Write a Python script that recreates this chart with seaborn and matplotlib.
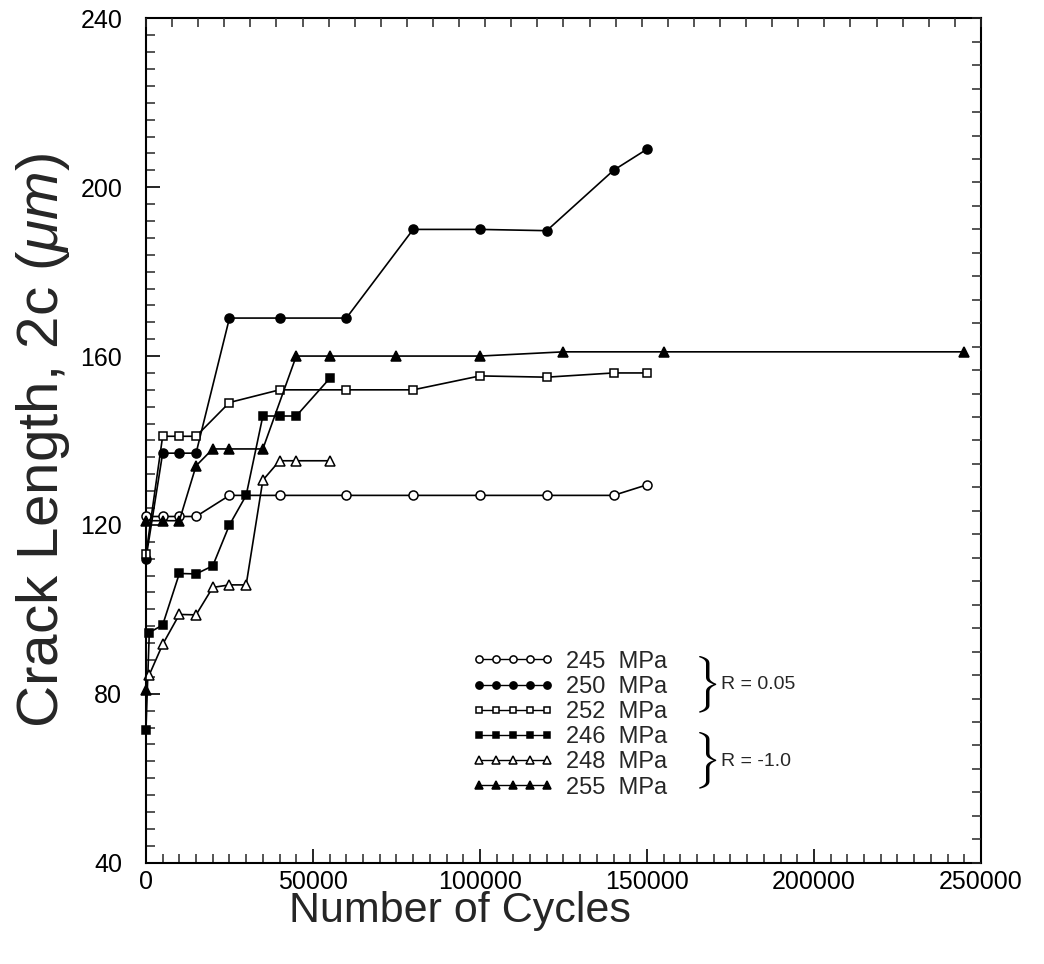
import numpy as np
import matplotlib
matplotlib.use("Agg")
import matplotlib.pyplot as plt
from matplotlib.ticker import MultipleLocator
import seaborn as sns

# ---- data ----
x245 = [0, 5000, 10000, 15000, 25000, 40000, 60000, 80000, 100000, 120000, 140000, 150000]
y245 = [122, 122, 122, 122, 127, 127, 127, 127, 127, 127, 127, 129.5]

x250 = [0, 5000, 10000, 15000, 25000, 40000, 60000, 80000, 100000, 120000, 140000, 150000]
y250 = [112, 137, 137, 137, 169, 169, 169, 190, 190, 189.7, 204, 209]

x252 = [0, 5000, 10000, 15000, 25000, 40000, 60000, 80000, 100000, 120000, 140000, 150000]
y252 = [113, 141, 141, 141, 149, 152, 152, 152, 155.3, 155, 156, 156]

x246 = [0, 1000, 5000, 10000, 15000, 20000, 25000, 30000, 35000, 40000, 45000, 55000]
y246 = [71.5, 94.5, 96.3, 108.5, 108.4, 110.3, 120, 127, 145.8, 145.8, 145.8, 154.7]

x248 = [1000, 5000, 10000, 15000, 20000, 25000, 30000, 35000, 40000, 45000, 55000]
y248 = [84.5, 91.7, 98.8, 98.7, 105.2, 105.8, 105.8, 130.6, 135.2, 135.2, 135.2]

x255 = [0, 0, 5000, 10000, 15000, 20000, 25000, 35000, 45000, 55000, 75000, 100000, 125000, 155000, 245000]
y255 = [81, 121, 121, 121, 134, 138, 138, 138, 160, 160, 160, 160, 161, 161, 161]

labels = ["245  MPa", "250  MPa", "252  MPa", "246  MPa", "248  MPa", "255  MPa"]
group_labels = ["R = 0.05", "R = -1.0"]
xlabel = "Number of Cycles"
ylabel = r"Crack Length, 2c ($\mu m$)"

series = [
    (x245, y245, "o", "white", 6.5),
    (x250, y250, "o", "black", 6.5),
    (x252, y252, "s", "white", 6.0),
    (x246, y246, "s", "black", 6.0),
    (x248, y248, "^", "white", 7.0),
    (x255, y255, "^", "black", 7.0),
]

sns.set_theme(style="white")
plt.rcParams["font.family"] = ["Liberation Sans", "DejaVu Sans"]
plt.rcParams["mathtext.fontset"] = "custom"
plt.rcParams["mathtext.it"] = "Liberation Sans:italic"
plt.rcParams["mathtext.rm"] = "Liberation Sans"

fig = plt.figure(figsize=(10.44, 9.64), dpi=100)
ax = fig.add_axes([0.1398, 0.1051, 0.7998, 0.8759])

for (xs, ys, mk, fc, ms), lab in zip(series, labels):
    sns.lineplot(x=xs, y=ys, ax=ax, estimator=None, sort=False, color="black",
                 linewidth=1.2, marker=mk, markersize=ms, markerfacecolor=fc,
                 markeredgecolor="black", markeredgewidth=1.1, label=lab,
                 legend=False, clip_on=False, zorder=3)

ax.set_xlim(0, 250000)
ax.set_ylim(40, 240)
ax.xaxis.set_major_locator(MultipleLocator(50000))
ax.xaxis.set_minor_locator(MultipleLocator(5000))
ax.yaxis.set_major_locator(MultipleLocator(40))
ax.yaxis.set_minor_locator(MultipleLocator(4))
ax.tick_params(axis="both", which="major", direction="in", length=10, width=1.2,
               labelsize=18, colors="black")
ax.tick_params(axis="both", which="minor", direction="in", length=6.5, width=1.1)
ax.tick_params(axis="x", which="major", pad=5)
ax.tick_params(axis="y", which="major", pad=17)
for s in ax.spines.values():
    s.set_linewidth(1.5)
    s.set_color("black")

ax.set_xlabel(xlabel, fontsize=31)
ax.xaxis.set_label_coords(0.376, -0.034)
ax.set_ylabel(ylabel, fontsize=42)
ax.yaxis.set_label_coords(-0.088, 0.5)

# mirrored tick marks on top and right
ax_r = ax.twinx()
ax_r.set_ylim(40, 240)
ax_r.set_yticks(np.linspace(40, 240, 37))
ax_r.tick_params(axis="y", direction="in", length=6.5, width=1.1, labelright=False)
ax_t = ax.twiny()
ax_t.set_xlim(0, 250000)
ax_t.set_xticks(np.linspace(0, 250000, 33))
ax_t.tick_params(axis="x", direction="in", length=6.5, width=1.1, labeltop=False)
for a in (ax_r, ax_t):
    for s in a.spines.values():
        s.set_visible(False)

handles = ax.get_lines()[:6]
leg = ax.legend(handles, labels, loc="upper left", bbox_to_anchor=(0.39, 0.251),
                frameon=False, numpoints=5, markerscale=0.8, handlelength=3.5,
                fontsize=17, labelspacing=0.135, handletextpad=0.5,
                borderpad=0, borderaxespad=0)
for ln in leg.get_lines():
    ln.set_linewidth(1.0)

for yy in (0.211, 0.120):
    ax.text(0.655, yy, r"$\}$", transform=ax.transAxes, fontsize=34, va="center",
            ha="left", color="black", math_fontfamily="cm")
ax.text(0.689, 0.211, group_labels[0], transform=ax.transAxes, fontsize=14,
        va="center", ha="left")
ax.text(0.689, 0.120, group_labels[1], transform=ax.transAxes, fontsize=14,
        va="center", ha="left")

fig.savefig("out.png", dpi=100)
